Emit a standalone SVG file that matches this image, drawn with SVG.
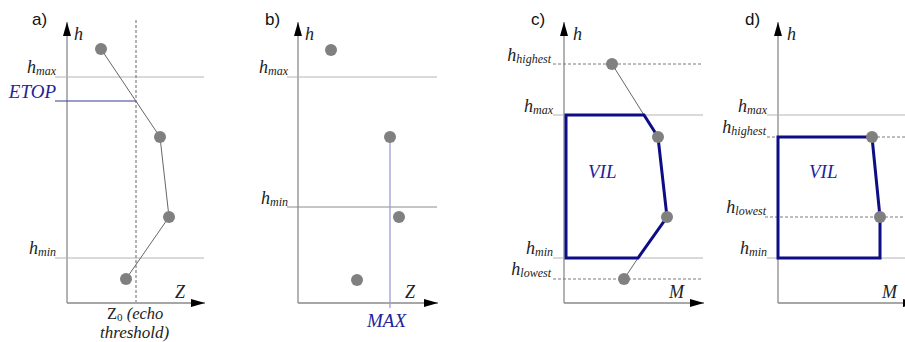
<svg xmlns="http://www.w3.org/2000/svg" width="905" height="342" viewBox="0 0 905 342">
<defs>
<marker id="arr" viewBox="0 0 14 8" refX="14" refY="4" markerWidth="14" markerHeight="8" markerUnits="userSpaceOnUse" orient="auto">
<path d="M0,0 L14,4 L0,8 Z" fill="#000"/>
</marker>
<style>
.axis{stroke:#8a8a8a;stroke-width:1.3;fill:none;marker-end:url(#arr)}
.lvl{stroke:#b4b4b4;stroke-width:1;fill:none}
.lvl2{stroke:#8c8c8c;stroke-width:1;fill:none}
.dash{stroke:#7a7a7a;stroke-width:1;stroke-dasharray:3 2;fill:none}
.conn{stroke:#666;stroke-width:1;fill:none}
.pt{fill:#808080}
.vil{stroke:#0d0d85;stroke-width:3;fill:none;stroke-linejoin:miter}
.lab{font-family:"Liberation Sans",Arial,sans-serif;font-size:17px;fill:#111}
.it{font-family:"Liberation Serif","Times New Roman",serif;font-style:italic;font-size:18px;fill:#222}
.sub{font-size:12px}
.blue{font-family:"Liberation Serif","Times New Roman",serif;font-style:italic;font-size:19px;fill:#23239a}
</style>
</defs>

<!-- Panel a -->
<g id="panel-a">
<text class="lab" x="32" y="25">a)</text>
<line class="axis" x1="67" y1="303" x2="67" y2="22"/>
<line class="axis" x1="67" y1="303" x2="205" y2="303"/>
<text class="it" x="74" y="40">h</text>
<text class="it" x="175" y="298">Z</text>
<line class="lvl" x1="55" y1="77" x2="204" y2="77"/>
<line class="lvl" x1="55" y1="258" x2="204" y2="258"/>
<line x1="136" y1="20" x2="136" y2="302" stroke="#666" stroke-width="1" stroke-dasharray="3 2"/>
<line x1="55" y1="101" x2="136" y2="101" stroke="#3a3a9a" stroke-width="1"/>
<text class="it" x="56" y="73" text-anchor="end">h<tspan class="sub" dy="2">max</tspan></text>
<text class="it" x="56" y="254" text-anchor="end">h<tspan class="sub" dy="2">min</tspan></text>
<text class="blue" x="56" y="98" text-anchor="end">ETOP</text>
<text x="107" y="319" style="font-family:'Liberation Serif',serif;font-size:16.5px;fill:#222">Z<tspan style="font-size:11px" dy="2">0</tspan><tspan dy="-2" font-style="italic"> (echo</tspan></text>
<text class="it" x="100" y="338" style="font-size:17px">threshold)</text>
<g id="a-connectors">
<polyline class="conn" points="101,49 160,137 169,217 126,279"/>
</g>
<g id="a-p1"><circle class="pt" cx="101" cy="49" r="6"/></g>
<g id="a-p2"><circle class="pt" cx="160" cy="137" r="6"/></g>
<g id="a-p3"><circle class="pt" cx="169" cy="217" r="6"/></g>
<g id="a-p4"><circle class="pt" cx="126" cy="279" r="6"/></g>
</g>

<!-- Panel b -->
<g id="panel-b">
<text class="lab" x="265" y="25">b)</text>
<line class="axis" x1="298" y1="303" x2="298" y2="22"/>
<line class="axis" x1="298" y1="303" x2="438" y2="303"/>
<text class="it" x="305" y="40">h</text>
<text class="it" x="405" y="298">Z</text>
<line class="lvl" x1="287" y1="77" x2="437" y2="77"/>
<line class="lvl2" x1="287" y1="207" x2="437" y2="207"/>
<text class="it" x="288" y="73" text-anchor="end">h<tspan class="sub" dy="2">max</tspan></text>
<text class="it" x="288" y="204" text-anchor="end">h<tspan class="sub" dy="2">min</tspan></text>
<g id="b-connectors">
<line x1="390" y1="137" x2="390" y2="308" stroke="#9c9cd2" stroke-width="1.3"/>
</g>
<text class="blue" x="367" y="327">MAX</text>
<g id="b-p1"><circle class="pt" cx="331" cy="50" r="6"/></g>
<g id="b-p2"><circle class="pt" cx="390" cy="137" r="6"/></g>
<g id="b-p3"><circle class="pt" cx="399" cy="217" r="6"/></g>
<g id="b-p4"><circle class="pt" cx="357" cy="280" r="6"/></g>
</g>

<!-- Panel c -->
<g id="panel-c">
<text class="lab" x="531" y="25">c)</text>
<line class="axis" x1="564" y1="303" x2="564" y2="22"/>
<line class="axis" x1="564" y1="303" x2="704" y2="303"/>
<text class="it" x="573" y="40">h</text>
<text class="it" x="669" y="298">M</text>
<line class="dash" x1="553" y1="64" x2="703" y2="64"/>
<line class="lvl" x1="553" y1="115" x2="703" y2="115"/>
<line class="lvl" x1="553" y1="258" x2="703" y2="258"/>
<line class="dash" x1="553" y1="279" x2="703" y2="279"/>
<text class="it" x="551" y="61" text-anchor="end">h<tspan class="sub" dy="2">highest</tspan></text>
<text class="it" x="553" y="112" text-anchor="end">h<tspan class="sub" dy="2">max</tspan></text>
<text class="it" x="553" y="254" text-anchor="end">h<tspan class="sub" dy="2">min</tspan></text>
<text class="it" x="551" y="275" text-anchor="end">h<tspan class="sub" dy="2">lowest</tspan></text>
<g id="c-connectors">
<line class="conn" x1="612" y1="64" x2="644" y2="115"/>
<line class="conn" x1="638" y1="258" x2="624" y2="279"/>
</g>
<g id="c-vil"><polygon class="vil" points="566,115 644,115 658,137 667,217 638,258 566,258"/></g>
<text class="blue" x="588" y="178">VIL</text>
<g id="c-p1"><circle class="pt" cx="612" cy="64" r="6"/></g>
<g id="c-p2"><circle class="pt" cx="658" cy="137" r="6"/></g>
<g id="c-p3"><circle class="pt" cx="667" cy="217" r="6"/></g>
<g id="c-p4"><circle class="pt" cx="624" cy="279" r="6"/></g>
</g>

<!-- Panel d -->
<g id="panel-d">
<text class="lab" x="745" y="25">d)</text>
<line class="axis" x1="778" y1="303" x2="778" y2="22"/>
<line class="axis" x1="778" y1="303" x2="917" y2="303"/>
<text class="it" x="787" y="40">h</text>
<text class="it" x="882" y="298">M</text>
<line class="lvl" x1="767" y1="115" x2="905" y2="115"/>
<line class="dash" x1="767" y1="137" x2="905" y2="137"/>
<line class="dash" x1="765" y1="217" x2="905" y2="217"/>
<line class="lvl" x1="767" y1="258" x2="905" y2="258"/>
<text class="it" x="767" y="112" text-anchor="end">h<tspan class="sub" dy="2">max</tspan></text>
<text class="it" x="766" y="133" text-anchor="end">h<tspan class="sub" dy="2">highest</tspan></text>
<text class="it" x="766" y="213" text-anchor="end">h<tspan class="sub" dy="2">lowest</tspan></text>
<text class="it" x="767" y="254" text-anchor="end">h<tspan class="sub" dy="2">min</tspan></text>
<g id="d-vil"><polygon class="vil" points="778,137 872,137 880,217 880,258 778,258"/></g>
<text class="blue" x="809" y="178">VIL</text>
<g id="d-p1"><circle class="pt" cx="872" cy="137" r="6"/></g>
<g id="d-p2"><circle class="pt" cx="880" cy="217" r="6"/></g>
</g>
</svg>
